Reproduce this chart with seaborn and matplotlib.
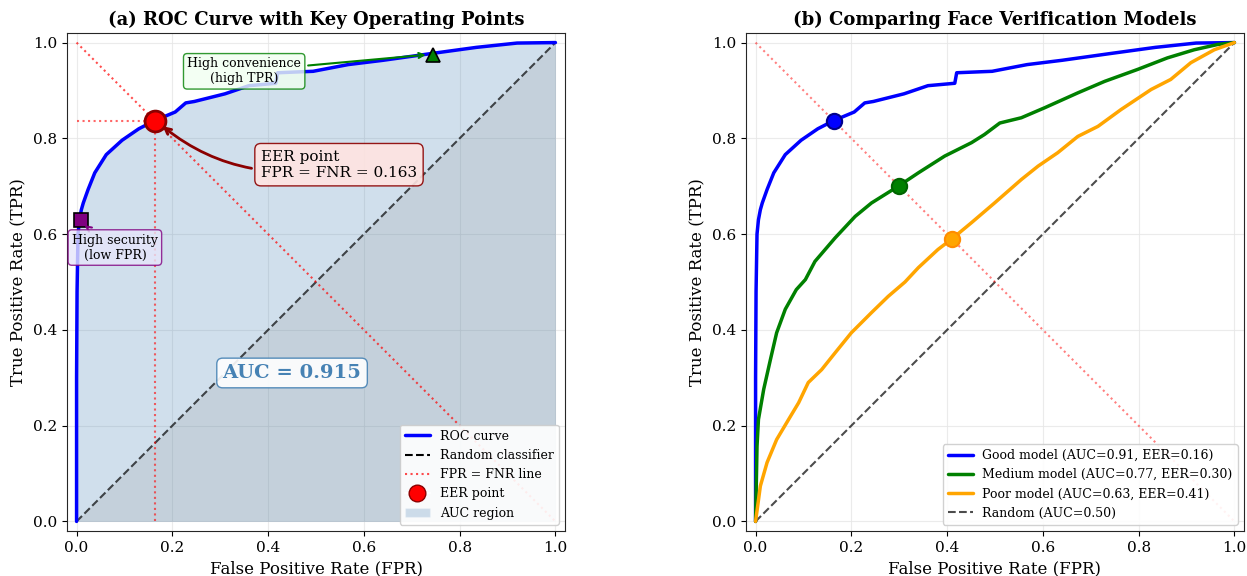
import matplotlib
matplotlib.use("Agg")
import matplotlib.pyplot as plt
from matplotlib.lines import Line2D
from matplotlib.patches import Patch
import numpy as np
import pandas as pd
import seaborn as sns

# ROC curve points (FPR, TPR) for the three verification models
good_fpr = [0.0, 0.0, 0.001, 0.003, 0.006, 0.010, 0.014, 0.024, 0.038, 0.062, 0.095,
            0.130, 0.163, 0.206, 0.228, 0.246, 0.310, 0.360, 0.416, 0.420, 0.494,
            0.567, 0.640, 0.740, 0.835, 0.920, 1.0]
good_tpr = [0.0, 0.300, 0.480, 0.600, 0.630, 0.651, 0.665, 0.693, 0.728, 0.766, 0.796,
            0.820, 0.837, 0.855, 0.874, 0.877, 0.893, 0.910, 0.915, 0.937, 0.940,
            0.954, 0.963, 0.977, 0.990, 0.999, 1.0]

medium_fpr = [0.0, 0.003, 0.006, 0.017, 0.031, 0.044, 0.062, 0.085, 0.104, 0.124, 0.166,
              0.208, 0.242, 0.298, 0.340, 0.395, 0.451, 0.478, 0.510, 0.555, 0.604,
              0.673, 0.729, 0.798, 0.860, 0.916, 0.965, 1.0]
medium_tpr = [0.0, 0.157, 0.213, 0.276, 0.338, 0.394, 0.443, 0.484, 0.505, 0.543, 0.592,
              0.637, 0.665, 0.700, 0.728, 0.763, 0.791, 0.808, 0.832, 0.843, 0.864,
              0.895, 0.919, 0.944, 0.968, 0.985, 0.996, 1.0]

poor_fpr = [0.0, 0.010, 0.024, 0.044, 0.069, 0.090, 0.110, 0.138, 0.166, 0.200, 0.242,
            0.277, 0.312, 0.340, 0.381, 0.410, 0.451, 0.499, 0.555, 0.590, 0.631,
            0.673, 0.715, 0.763, 0.826, 0.867, 0.909, 0.958, 1.0]
poor_tpr = [0.0, 0.074, 0.123, 0.171, 0.213, 0.248, 0.290, 0.317, 0.352, 0.394, 0.436,
            0.470, 0.500, 0.530, 0.568, 0.590, 0.624, 0.665, 0.714, 0.742, 0.770,
            0.804, 0.825, 0.860, 0.902, 0.923, 0.958, 0.985, 1.0]

model_names = ["Good model", "Medium model", "Poor model"]
model_auc = [0.91, 0.77, 0.63]
model_eer = [0.16, 0.30, 0.41]
model_colors = ["blue", "green", "orange"]
model_edges = ["darkblue", "darkgreen", "darkorange"]

# Operating points on the good model
eer_value = 0.163
auc_value = 0.915
high_sec_point = (0.01, 0.63)
high_conv_point = (0.745, 0.975)

sns.set_style("whitegrid", {
    "axes.edgecolor": "0.15",
    "axes.linewidth": 1.0,
    "grid.color": "#e6e6e6",
    "xtick.bottom": True,
    "ytick.left": True,
    "xtick.color": "black",
    "ytick.color": "black",
    "text.color": "black",
    "axes.labelcolor": "black",
})
plt.rcParams["font.family"] = ["DejaVu Serif"]
plt.rcParams["xtick.major.size"] = 3.5
plt.rcParams["ytick.major.size"] = 3.5
plt.rcParams["xtick.labelsize"] = 11
plt.rcParams["ytick.labelsize"] = 11

fig = plt.figure(figsize=(12.47, 5.76), dpi=100)
ax1 = fig.add_axes([67 / 1247, 45 / 576, 498 / 1247, 498 / 576])
ax2 = fig.add_axes([746 / 1247, 45 / 576, 498 / 1247, 498 / 576])

good_df = pd.DataFrame({"fpr": good_fpr, "tpr": good_tpr})

# ---------------- (a) single ROC curve ----------------
ax1.fill_between(good_fpr, good_tpr, color="steelblue", alpha=0.25, lw=0, zorder=1)
ax1.fill_between([0, 1], [0, 1], color="gray", alpha=0.15, lw=0, zorder=1)
sns.lineplot(data=good_df, x="fpr", y="tpr", ax=ax1, color="blue", lw=2.5,
             sort=False, estimator=None, zorder=3)
ax1.plot([0, 1], [0, 1], "k--", lw=1.5, alpha=0.7, zorder=2)
ax1.plot([0, 1], [1, 0], "r:", lw=1.5, alpha=0.7, zorder=2)
ax1.plot([eer_value, eer_value], [0, 1 - eer_value], "r:", lw=1.5, alpha=0.6, zorder=2)
ax1.plot([0, eer_value], [1 - eer_value, 1 - eer_value], "r:", lw=1.5, alpha=0.6, zorder=2)
ax1.plot(eer_value, 1 - eer_value, "o", color="red", markersize=15,
         markeredgecolor="darkred", markeredgewidth=2, zorder=6)

ax1.plot(*high_sec_point, "s", color="purple", markersize=10,
         markeredgecolor="black", markeredgewidth=1.2, zorder=6)
ax1.plot(*high_conv_point, "^", color="green", markersize=10,
         markeredgecolor="black", markeredgewidth=1.2, zorder=6)

ax1.annotate(f"EER point\nFPR = FNR = {eer_value:.3f}",
             xy=(eer_value + 0.012, 1 - eer_value - 0.008), xytext=(0.385, 0.745),
             fontsize=11, ha="left", va="center", color="black",
             bbox=dict(boxstyle="round,pad=0.4", fc="mistyrose", ec="darkred", alpha=0.9),
             arrowprops=dict(arrowstyle="->", color="darkred", lw=2,
                             connectionstyle="arc3,rad=-0.25"), zorder=7)
ax1.annotate("High security\n(low FPR)", xy=(0.012, 0.622), xytext=(0.08, 0.572),
             fontsize=9, ha="center", va="center", color="black",
             bbox=dict(boxstyle="round,pad=0.3", fc="lavender", ec="purple", alpha=0.8),
             arrowprops=dict(arrowstyle="->", color="purple", lw=1.5), zorder=7)
ax1.annotate("High convenience\n(high TPR)", xy=(0.735, 0.975), xytext=(0.35, 0.94),
             fontsize=9, ha="center", va="center", color="black",
             bbox=dict(boxstyle="round,pad=0.3", fc="honeydew", ec="green", alpha=0.8),
             arrowprops=dict(arrowstyle="->", color="green", lw=1.5), zorder=7)
ax1.text(0.45, 0.31, f"AUC = {auc_value:.3f}", fontsize=14, fontweight="bold",
         color="steelblue", ha="center", va="center",
         bbox=dict(boxstyle="round,pad=0.3", fc="white", ec="steelblue", alpha=0.9),
         zorder=7)

legend_a = [
    Line2D([0], [0], color="blue", lw=2.5, label="ROC curve"),
    Line2D([0], [0], color="k", ls="--", lw=1.5, label="Random classifier"),
    Line2D([0], [0], color="red", ls=":", lw=1.5, alpha=0.7, label="FPR = FNR line"),
    Line2D([0], [0], marker="o", color="w", markerfacecolor="red",
           markeredgecolor="darkred", markersize=12, label="EER point"),
    Patch(facecolor="steelblue", alpha=0.25, label="AUC region"),
]
ax1.legend(handles=legend_a, loc="lower right", fontsize=9, framealpha=0.9)
ax1.set_title("(a) ROC Curve with Key Operating Points", fontsize=13, fontweight="bold")

# ---------------- (b) model comparison ----------------
model_data = [(good_fpr, good_tpr), (medium_fpr, medium_tpr), (poor_fpr, poor_tpr)]
for (fpr, tpr), name, auc, eer, c in zip(model_data, model_names, model_auc,
                                        model_eer, model_colors):
    df = pd.DataFrame({"fpr": fpr, "tpr": tpr})
    sns.lineplot(data=df, x="fpr", y="tpr", ax=ax2, color=c, lw=2.5, sort=False,
                 estimator=None, label=f"{name} (AUC={auc:.2f}, EER={eer:.2f})", zorder=3)
for eer_pt, c, ec in zip([eer_value, 0.30, 0.41], model_colors, model_edges):
    ax2.plot(eer_pt, 1 - eer_pt, "o", color=c, markersize=11,
             markeredgecolor=ec, markeredgewidth=1.5, zorder=6)
ax2.plot([0, 1], [0, 1], "k--", lw=1.5, alpha=0.7, label="Random (AUC=0.50)", zorder=2)
ax2.plot([0, 1], [1, 0], "r:", lw=1.5, alpha=0.5, zorder=2)
ax2.legend(loc="lower right", fontsize=9, framealpha=0.9)
ax2.set_title("(b) Comparing Face Verification Models", fontsize=13, fontweight="bold")

for ax in (ax1, ax2):
    ax.set_xlim(-0.02, 1.02)
    ax.set_ylim(-0.02, 1.02)
    ax.set_xticks(np.arange(0, 1.01, 0.2))
    ax.set_yticks(np.arange(0, 1.01, 0.2))
    ax.set_xlabel("False Positive Rate (FPR)", fontsize=12)
    ax.set_ylabel("True Positive Rate (TPR)", fontsize=12)
    ax.grid(True, alpha=0.8)

fig.savefig("out.png", dpi=100)
